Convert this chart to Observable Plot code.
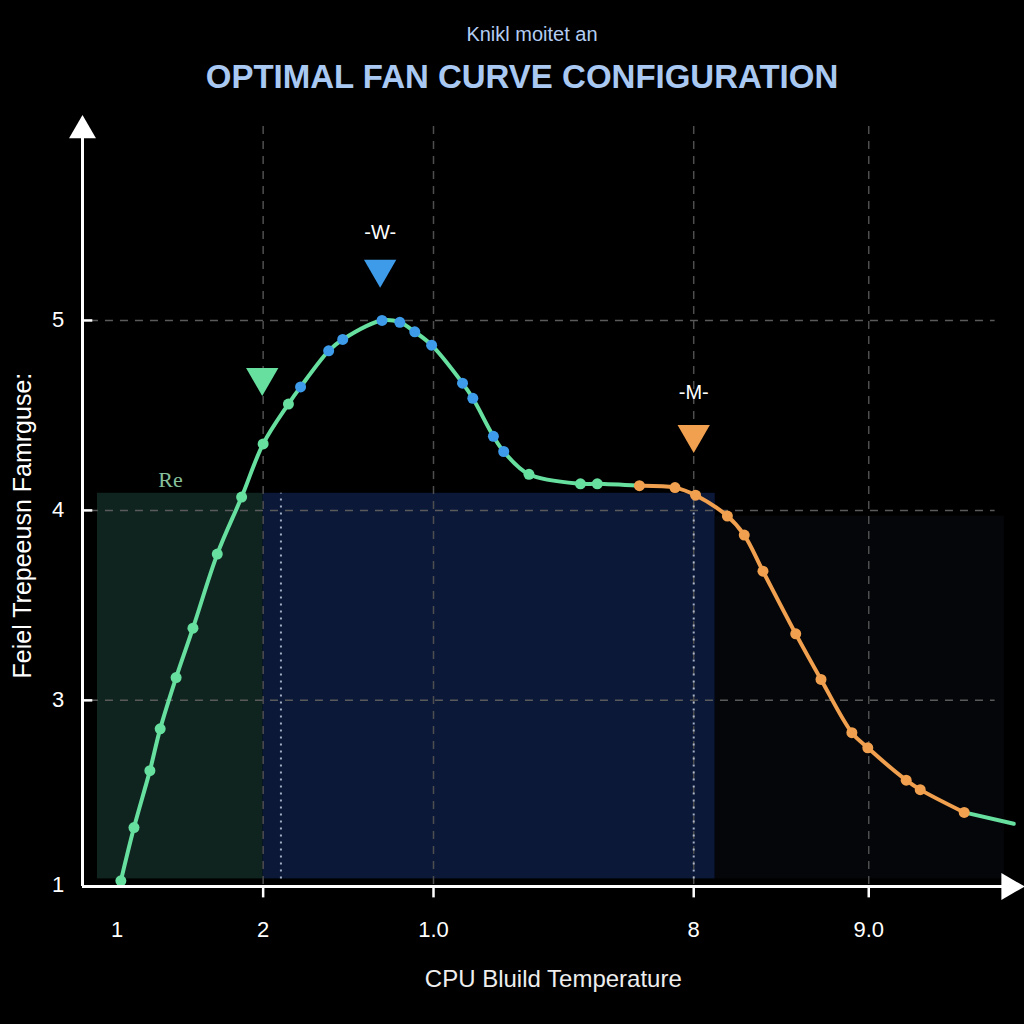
<!DOCTYPE html>
<html>
<head>
<meta charset="utf-8">
<script src="https://cdn.jsdelivr.net/npm/d3@7"></script>
<script src="https://cdn.jsdelivr.net/npm/@observablehq/plot@0.6"></script>
<style>
  html, body { margin: 0; padding: 0; background: #000; }
  #header { position: relative; width: 1024px; height: 110px; font-family: "Liberation Sans", Arial, sans-serif; }
  #sub { position: absolute; top: 23px; left: 20px; width: 1024px; text-align: center; font-size: 20px; color: #b4cdf2; }
  #title { position: absolute; top: 58px; left: 10px; width: 1024px; text-align: center; font-size: 33px; font-weight: bold; color: #a9c9f2; }
  #chart { width: 1024px; height: 914px; }
</style>
</head>
<body>
<div id="header">
  <div id="sub">Knikl moitet an</div>
  <div id="title">OPTIMAL FAN CURVE CONFIGURATION</div>
</div>
<div id="chart"></div>
<script>
// ---- data ----
const curveX = [0.41, 0.55, 0.72, 0.83, 1.00, 1.18, 1.44, 1.70, 1.93, 2.20,
                2.33, 2.63, 2.78, 3.20, 3.39, 3.55, 3.73, 4.06, 4.17, 4.39, 4.50,
                4.77, 5.32, 5.50,
                5.95, 6.33, 6.55, 6.89, 7.07, 7.27, 7.62, 7.89, 8.22, 8.39, 8.80, 8.95, 9.42,
                9.95];
const curveY = [2.05, 2.33, 2.63, 2.85, 3.12, 3.38, 3.77, 4.07, 4.35, 4.56,
                4.65, 4.84, 4.90, 5.00, 4.99, 4.94, 4.87, 4.67, 4.59, 4.39, 4.31,
                4.19, 4.14, 4.14,
                4.13, 4.12, 4.08, 3.97, 3.87, 3.68, 3.35, 3.11, 2.83, 2.75, 2.58, 2.53, 2.41,
                2.35];
const pointPhase = ["ramp","ramp","ramp","ramp","ramp","ramp","ramp","ramp","ramp","ramp",
                    "peak","peak","peak","peak","peak","peak","peak","peak","peak","peak","peak",
                    "ramp","ramp","ramp",
                    "cool","cool","cool","cool","cool","cool","cool","cool","cool","cool","cool","cool","cool",
                    "end"];
// line segment each point belongs to (boundary points shared)
const segStart = [0, 24, 36];
const segEnd   = [24, 36, 37];
const segColorKey = ["ramp", "cool", "ramp"];

const markerX = [1.92, 3.18, 6.53];
const markerY = [4.70, 5.27, 4.40];
const markerKey = ["ramp", "peak", "cool"];
const markerLabel = ["", "-W-", "-M-"];
const markerLabelY = [4.70, 5.46, 4.62];

const zoneX1 = [0.16, 1.93, 6.76];
const zoneX2 = [1.93, 6.76, 9.85];
const zoneY1 = [2.06, 2.06, 2.06];
const zoneY2 = [4.09, 4.09, 3.97];
const zoneKey = ["green", "blue", "dark"];
const zoneLabel = "Re";
const zoneLabelX = 0.94, zoneLabelY = 4.16;

const xTicks = [0.37, 1.93, 3.75, 6.53, 8.40];
const xTickLabels = ["1", "2", "1.0", "8", "9.0"];
const xTickMarks = [1.93, 3.75, 6.53, 8.40];
const yTicks = [5, 4, 3, 2.03];
const yTickLabels = ["5", "4", "3", "1"];
const yGrid = [5, 4, 3];
const xGrid = [1.93, 3.75, 6.53, 8.40];
const dottedX = [2.12, 6.53];

const xTitle = "CPU Bluild Temperature";
const yTitle = "Feiel Trepeeusn Famrguse:";

// ---- styles ----
const colors = { ramp: "#66df9f", peak: "#3d9be9", cool: "#f0a04e", end: "none" };
const zoneFill = { green: "#0f241f", blue: "#0b1838", dark: "#050609" };

// ---- build tables ----
const pts = curveX.map((x, i) => ({x, y: curveY[i], phase: pointPhase[i]}));
const segRows = [];
segStart.forEach((s, k) => {
  for (let i = s; i <= segEnd[k]; i++) segRows.push({x: curveX[i], y: curveY[i], seg: k, color: colors[segColorKey[k]]});
});
const markers = markerX.map((x, i) => ({x, y: markerY[i], color: colors[markerKey[i]], label: markerLabel[i], ly: markerLabelY[i]}));
const zones = zoneX1.map((x1, i) => ({x1, x2: zoneX2[i], y1: zoneY1[i], y2: zoneY2[i], fill: zoneFill[zoneKey[i]]}));

const X0 = 0, XEND = 9.88, YAX = 2.02, YTOP = 6.02;
const font = "Liberation Sans, Arial, sans-serif";

const chart = Plot.plot({
  width: 1024,
  height: 914,
  marginLeft: 82,
  marginRight: 6,
  marginTop: 1,
  marginBottom: 138,
  style: { background: "#000", color: "#fff", fontFamily: font, overflow: "visible" },
  x: { domain: [0, 10], axis: null },
  y: { domain: [2.02, 6.1], axis: null },
  marks: [
    Plot.rect(zones, {x1: "x1", x2: "x2", y1: "y1", y2: "y2", fill: "fill"}),
    Plot.ruleY(yGrid, {x1: 0.085, x2: 9.75, stroke: "#5a5a5a", strokeWidth: 1.5, strokeDasharray: "8,7"}),
    Plot.ruleX(xGrid, {y1: 2.03, y2: 6.05, stroke: "#4e4e4e", strokeWidth: 1.5, strokeDasharray: "8,7"}),
    Plot.ruleX(dottedX, {y1: 2.06, y2: 4.09, stroke: "#c9d4e8", strokeWidth: 2, strokeDasharray: "2,5", strokeOpacity: 0.8}),
    Plot.text([zoneLabel], {x: zoneLabelX, y: zoneLabelY, text: d => d, fill: "#86c09c", fontSize: 22, fontFamily: "Liberation Serif, DejaVu Serif, serif"}),
    Plot.line(segRows, {x: "x", y: "y", z: "seg", stroke: "color", strokeWidth: 4, curve: "catmull-rom"}),
    Plot.dot(pts.filter(d => d.phase !== "end"), {x: "x", y: "y", r: 5.5, fill: d => colors[d.phase]}),
    Plot.dot(markers, {x: "x", y: "y", symbol: "triangle", rotate: 180, r: 12, fill: "color"}),
    Plot.text(markers.filter(d => d.label), {x: "x", y: "ly", text: "label", fill: "#fff", fontSize: 20}),
    // axes
    Plot.ruleY([YAX], {x1: X0, x2: XEND, stroke: "#fff", strokeWidth: 3}),
    Plot.ruleX([X0], {y1: YAX, y2: YTOP, stroke: "#fff", strokeWidth: 3}),
    Plot.dot([{x: 9.90, y: YAX}], {x: "x", y: "y", symbol: "triangle", rotate: 90, r: 10, fill: "#fff"}),
    Plot.dot([{x: X0, y: 6.0}], {x: "x", y: "y", symbol: "triangle", r: 10, fill: "#fff"}),
    Plot.ruleX(xTickMarks, {y1: YAX, y2: 1.96, stroke: "#fff", strokeWidth: 2.5}),
    Plot.ruleY(yGrid, {x1: 0, x2: 0.11, stroke: "#fff", strokeWidth: 2.5}),
    Plot.text(xTicks, {x: d => d, y: 1.79, text: (d, i) => xTickLabels[i], fill: "#fff", fontSize: 22}),
    Plot.text(yTicks, {x: -0.26, y: d => d, text: (d, i) => yTickLabels[i], fill: "#fff", fontSize: 22}),
    Plot.text([xTitle], {x: 5.03, y: 1.53, text: d => d, fill: "#eee", fontSize: 24}),
    Plot.text([yTitle], {x: -0.64, y: 3.92, text: d => d, rotate: -90, fill: "#fff", fontSize: 25})
  ]
});
document.getElementById("chart").appendChild(chart);
</script>
</body>
</html>
